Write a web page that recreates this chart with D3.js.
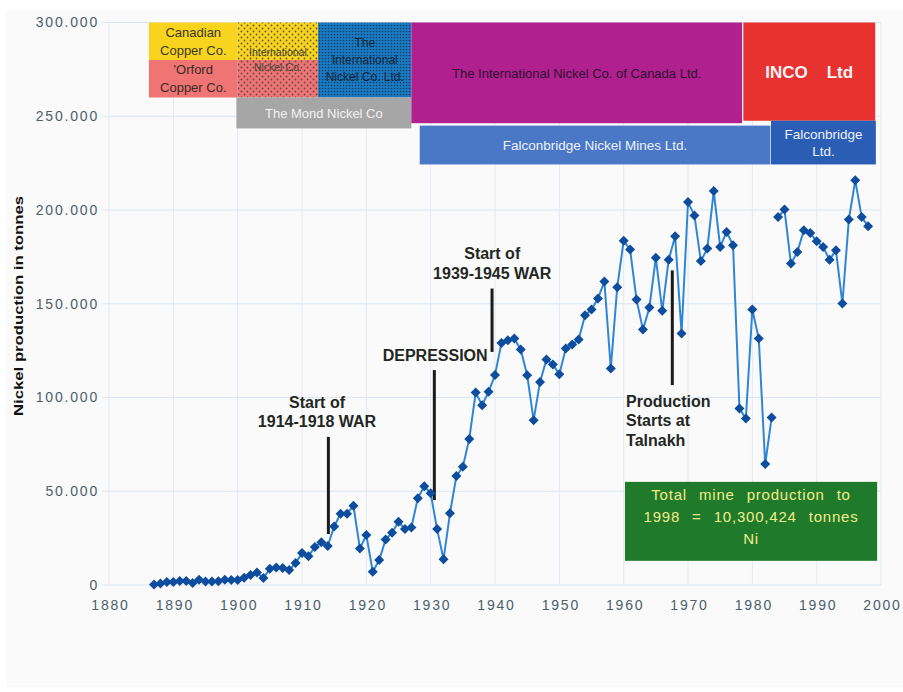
<!DOCTYPE html>
<html>
<head>
<meta charset="utf-8">
<script src="https://cdn.jsdelivr.net/npm/d3@7"></script>
<style>
  html, body { margin: 0; padding: 0; background: #ffffff; }
  svg { display: block; }
  text { font-family: "Liberation Sans", Arial, Helvetica, sans-serif; }
</style>
</head>
<body>
<svg id="chart" width="903" height="692"></svg>
<script>
// ---------------- DATA ----------------
const years = d3.range(1887, 1999);
const production = [
  300, 800, 1600, 1600, 2100, 2100, 1000, 2800, 1800, 1800,          // 1887-1896
  2000, 2800, 2600, 2600, 3800, 5300, 6700, 3700, 8600, 9300,        // 1897-1906
  9000, 8000, 11700, 17000, 15300, 20300, 22800, 20800, 31200, 38000, // 1907-1916
  38000, 42200, 19500, 26600, 7100, 13300, 24300, 27900, 33700, 29800, // 1917-1926
  30700, 46200, 52700, 48900, 29800, 13700, 38200, 58100, 63000, 77900, // 1927-1936
  102600, 95900, 103000, 112000, 129000, 130500, 131400, 125600, 111900, 87900, // 1937-1946
  108300, 120300, 117600, 112400, 126100, 128300, 130900, 143900, 146900, 152800, // 1947-1956
  161800, 115500, 158800, 183600, 178900, 152200, 136200, 148000, 174500, 146200, // 1957-1966
  173500, 186000, 134100, 204200, 197100, 172800, 179400, 210100, 180300, 188300, // 1967-1976
  181200, 94100, 88800, 146900, 131400, 64500, 89300, 196200, 200200, 171400,   // 1977-1986
  177600, 189200, 187700, 183300, 180300, 173500, 178500, 150100, 194900, 215800, // 1987-1996
  196200, 191300                                                       // 1997-1998
];
const lineBreakAfter = 1983;   // the source line is interrupted between 1983 and 1984

const yTicks = [0, 50000, 100000, 150000, 200000, 250000, 300000];
const yTickLabels = ["0", "50.000", "100.000", "150.000", "200.000", "250.000", "300.000"];
const xTicks = [1880, 1890, 1900, 1910, 1920, 1930, 1940, 1950, 1960, 1970, 1980, 1990, 2000];
const yTitle = "Nickel production in tonnes";

// Company ownership bands (years, and band expressed in tonnes units of the y axis)
const companyNames = [
  ["Canadian", "Copper Co."],
  ["'Orford", "Copper Co."],
  ["International", "Nickel Co."],
  ["The", "International", "Nickel Co. Ltd."],
  ["The Mond Nickel Co"],
  ["The International Nickel Co. of Canada Ltd."],
  ["INCO    Ltd"],
  ["Falconbridge Nickel Mines Ltd."],
  ["Falconbridge", "Ltd."]
];
const companyStart = [1886.2, 1886.2, 1900.0, 1912.5, 1899.8, 1927.0, 1978.6, 1928.3, 1982.9];
const companyEnd   = [1900.0, 1900.0, 1912.5, 1927.0, 1927.0, 1978.4, 1999.1, 1982.8, 1999.2];
const companyTop   = [300000, 280000, 300000, 300000, 260000, 300000, 300000, 245000, 247600];
const companyBottom= [280000, 260000, 260000, 260000, 243500, 246300, 247600, 224300, 224300];

// Annotations
const annLabels = [
  ["Start of", "1914-1918 WAR"],
  ["DEPRESSION"],
  ["Start of", "1939-1945 WAR"],
  ["Production", "Starts at", "Talnakh"]
];
const annLineYear  = [1914.1, 1930.57, 1939.54, 1967.56];
const annLineFrom  = [79000, 114600, 158100, 167800];
const annLineTo    = [27200, 45300, 124300, 106600];
const annTextYear  = [1912.33, 1930.7, 1939.57, 1960.37];
const annTextValue = [94600, 119500, 173700, 95200];

const totalBoxLines = ["Total mine production to", "1998 = 10,300,424 tonnes", "Ni"];
const totalBoxYears = [1960.2, 1999.4];
const totalBoxValues = [55000, 12900];

// ---------------- STYLES ----------------
const companyFill = ["#f8d41e", "#ee7573", "url(#dotsYP)", "url(#dotsBlue)", "#a6a6a6", "#b0208e", "#e8322f", "#4a78c6", "#2a5db4"];
const companyText = ["#3b3828", "#3b2a26", "#4a4436", "#10263e", "#f2f2f2", "#2b1230", "#f4f4f4", "#eef2fa", "#eef2fa"];
const companyFont = [13, 13, 10.5, 12, 13, 13, 17, 13.5, 13.5];
const companyWeight = ["normal","normal","normal","normal","normal","normal","bold","normal","normal"];
const companyLineH = [18, 18, 15, 17, 15, 15, 15, 15, 17.5];

// ---------------- CHART ----------------
const svg = d3.select("#chart");
const x = d3.scaleLinear().domain([1880, 2000]).range([109, 881]);
const y = d3.scaleLinear().domain([0, 300000]).range([585, 22.5]);

// background
svg.append("rect").attr("x", 6).attr("y", 10).attr("width", 897).attr("height", 677).attr("fill", "#fafafa");

const defs = svg.append("defs");
const p1 = defs.append("pattern").attr("id", "dotsYP").attr("patternUnits", "userSpaceOnUse")
  .attr("width", 6).attr("height", 6);
p1.append("circle").attr("cx", 1.5).attr("cy", 1.5).attr("r", 0.9).attr("fill", "#3a3a3a").attr("opacity", 0.8);
p1.append("circle").attr("cx", 4.5).attr("cy", 4.5).attr("r", 0.9).attr("fill", "#3a3a3a").attr("opacity", 0.8);
const p2 = defs.append("pattern").attr("id", "dotsBlue").attr("patternUnits", "userSpaceOnUse")
  .attr("width", 3).attr("height", 3);
p2.append("rect").attr("width", 3).attr("height", 3).attr("fill", "#1b7cc4");
p2.append("circle").attr("cx", 1.5).attr("cy", 1.5).attr("r", 0.85).attr("fill", "#0c2f52").attr("opacity", 0.8);

// grid
const grid = svg.append("g").attr("class", "grid");
grid.selectAll("line.h").data(yTicks).enter().append("line")
  .attr("x1", 102).attr("x2", x(2000))
  .attr("y1", d => y(d)).attr("y2", d => y(d))
  .attr("stroke", "#dbe6f2").attr("stroke-width", 1);
grid.selectAll("line.v").data(xTicks).enter().append("line")
  .attr("x1", d => x(d)).attr("x2", d => x(d))
  .attr("y1", y(300000)).attr("y2", y(0))
  .attr("stroke", "#e0e9f3").attr("stroke-width", 1);

// y axis labels via d3 axis
const yAxis = d3.axisLeft(y).tickValues(yTicks)
  .tickFormat((d, i) => yTickLabels[i]).tickSize(0).tickPadding(0);
const gy = svg.append("g").attr("transform", "translate(99,0)").call(yAxis);
gy.select(".domain").remove();
gy.selectAll("text").attr("font-size", 14).attr("fill", "#4a606c")
  .attr("font-family", "'Liberation Sans', Arial, sans-serif")
  .style("letter-spacing", "1.8px");

// x axis labels
const xAxis = d3.axisBottom(x).tickValues(xTicks).tickFormat(d3.format("d")).tickSize(0).tickPadding(0);
const gx = svg.append("g").attr("transform", "translate(0,600)").call(xAxis);
gx.select(".domain").remove();
gx.selectAll("text").attr("font-size", 14).attr("fill", "#4a606c")
  .attr("font-family", "'Liberation Sans', Arial, sans-serif")
  .attr("dx", "1px")
  .style("letter-spacing", "1.8px");

// y title
svg.append("text")
  .attr("transform", "translate(23,306) rotate(-90)")
  .attr("text-anchor", "middle")
  .attr("font-size", 13).attr("font-weight", "bold")
  .attr("font-family", "'Liberation Sans Narrow', 'DejaVu Sans Condensed', Arial, sans-serif")
  .attr("fill", "#111")
  .attr("textLength", 220).attr("lengthAdjust", "spacingAndGlyphs")
  .text(yTitle);

// company boxes
const companies = companyNames.map((n, i) => ({
  name: n, start: companyStart[i], end: companyEnd[i], top: companyTop[i], bottom: companyBottom[i], i
}));
const cg = svg.append("g");
// underlay colours for International Nickel Co. (yellow top / pink bottom)
const inc = companies[2];
cg.append("rect")
  .attr("x", x(inc.start)).attr("width", x(inc.end) - x(inc.start))
  .attr("y", y(companies[0].top)).attr("height", y(companies[0].bottom) - y(companies[0].top)).attr("fill", companyFill[0]);
cg.append("rect")
  .attr("x", x(inc.start)).attr("width", x(inc.end) - x(inc.start))
  .attr("y", y(companies[1].top)).attr("height", y(companies[1].bottom) - y(companies[1].top)).attr("fill", companyFill[1]);
cg.selectAll("rect.company").data(companies).enter().append("rect")
  .attr("class", "company")
  .attr("x", d => x(d.start)).attr("width", d => x(d.end) - x(d.start))
  .attr("y", d => y(d.top)).attr("height", d => y(d.bottom) - y(d.top))
  .attr("fill", d => companyFill[d.i]);

const ct = svg.append("g");
companies.forEach(d => {
  const cx = (x(d.start) + x(d.end)) / 2;
  const cy = (y(d.top) + y(d.bottom)) / 2;
  const n = d.name.length, lh = companyLineH[d.i], fs = companyFont[d.i];
  const t = ct.append("text")
    .attr("text-anchor", "middle")
    .attr("font-size", fs).attr("font-weight", companyWeight[d.i])
    .attr("fill", companyText[d.i])
    .style("white-space", "pre");
  d.name.forEach((line, k) => {
    t.append("tspan").attr("x", cx)
      .attr("y", cy + (k - (n - 1) / 2) * lh + fs * 0.36)
      .text(line);
  });
});

// annotation lines and texts
const ag = svg.append("g");
annLabels.forEach((lab, i) => {
  ag.append("line")
    .attr("x1", x(annLineYear[i])).attr("x2", x(annLineYear[i]))
    .attr("y1", y(annLineFrom[i])).attr("y2", y(annLineTo[i]))
    .attr("stroke", "#1b1b1b").attr("stroke-width", 3);
  const anchor = i === 3 ? "start" : "middle";
  const t = ag.append("text").attr("text-anchor", anchor)
    .attr("font-size", 16).attr("font-weight", "bold").attr("fill", "#23271f");
  lab.forEach((line, k) => {
    t.append("tspan").attr("x", x(annTextYear[i]))
      .attr("y", y(annTextValue[i]) + k * 19.8).text(line);
  });
});

// green total box
svg.append("rect")
  .attr("x", x(totalBoxYears[0])).attr("width", x(totalBoxYears[1]) - x(totalBoxYears[0]))
  .attr("y", y(totalBoxValues[0])).attr("height", y(totalBoxValues[1]) - y(totalBoxValues[0]))
  .attr("fill", "#1f7a2b");
const tb = svg.append("text").attr("text-anchor", "middle")
  .attr("font-size", 15).attr("fill", "#f1ec8a")
  .style("letter-spacing", "0.8px").style("word-spacing", "7px");
const tbx = (x(totalBoxYears[0]) + x(totalBoxYears[1])) / 2;
totalBoxLines.forEach((line, k) => {
  tb.append("tspan").attr("x", tbx)
    .attr("y", y(totalBoxValues[0]) + 18 + k * 22.2).text(line);
});

// data line
const pts = years.map((yr, i) => ({ year: yr, value: production[i] }));
const segA = pts.filter(d => d.year <= lineBreakAfter);
const segB = pts.filter(d => d.year > lineBreakAfter);
const line = d3.line().x(d => x(d.year)).y(d => y(d.value));
[segA, segB].forEach(seg => {
  svg.append("path").datum(seg)
    .attr("d", line).attr("fill", "none")
    .attr("stroke", "#2f86d6").attr("stroke-width", 2);
});
const sym = d3.symbol().type(d3.symbolSquare).size(50);
svg.append("g").selectAll("path").data(pts).enter().append("path")
  .attr("d", sym)
  .attr("transform", d => `translate(${x(d.year)},${y(d.value)}) rotate(45)`)
  .attr("fill", "#0e4c9e");
</script>
</body>
</html>
